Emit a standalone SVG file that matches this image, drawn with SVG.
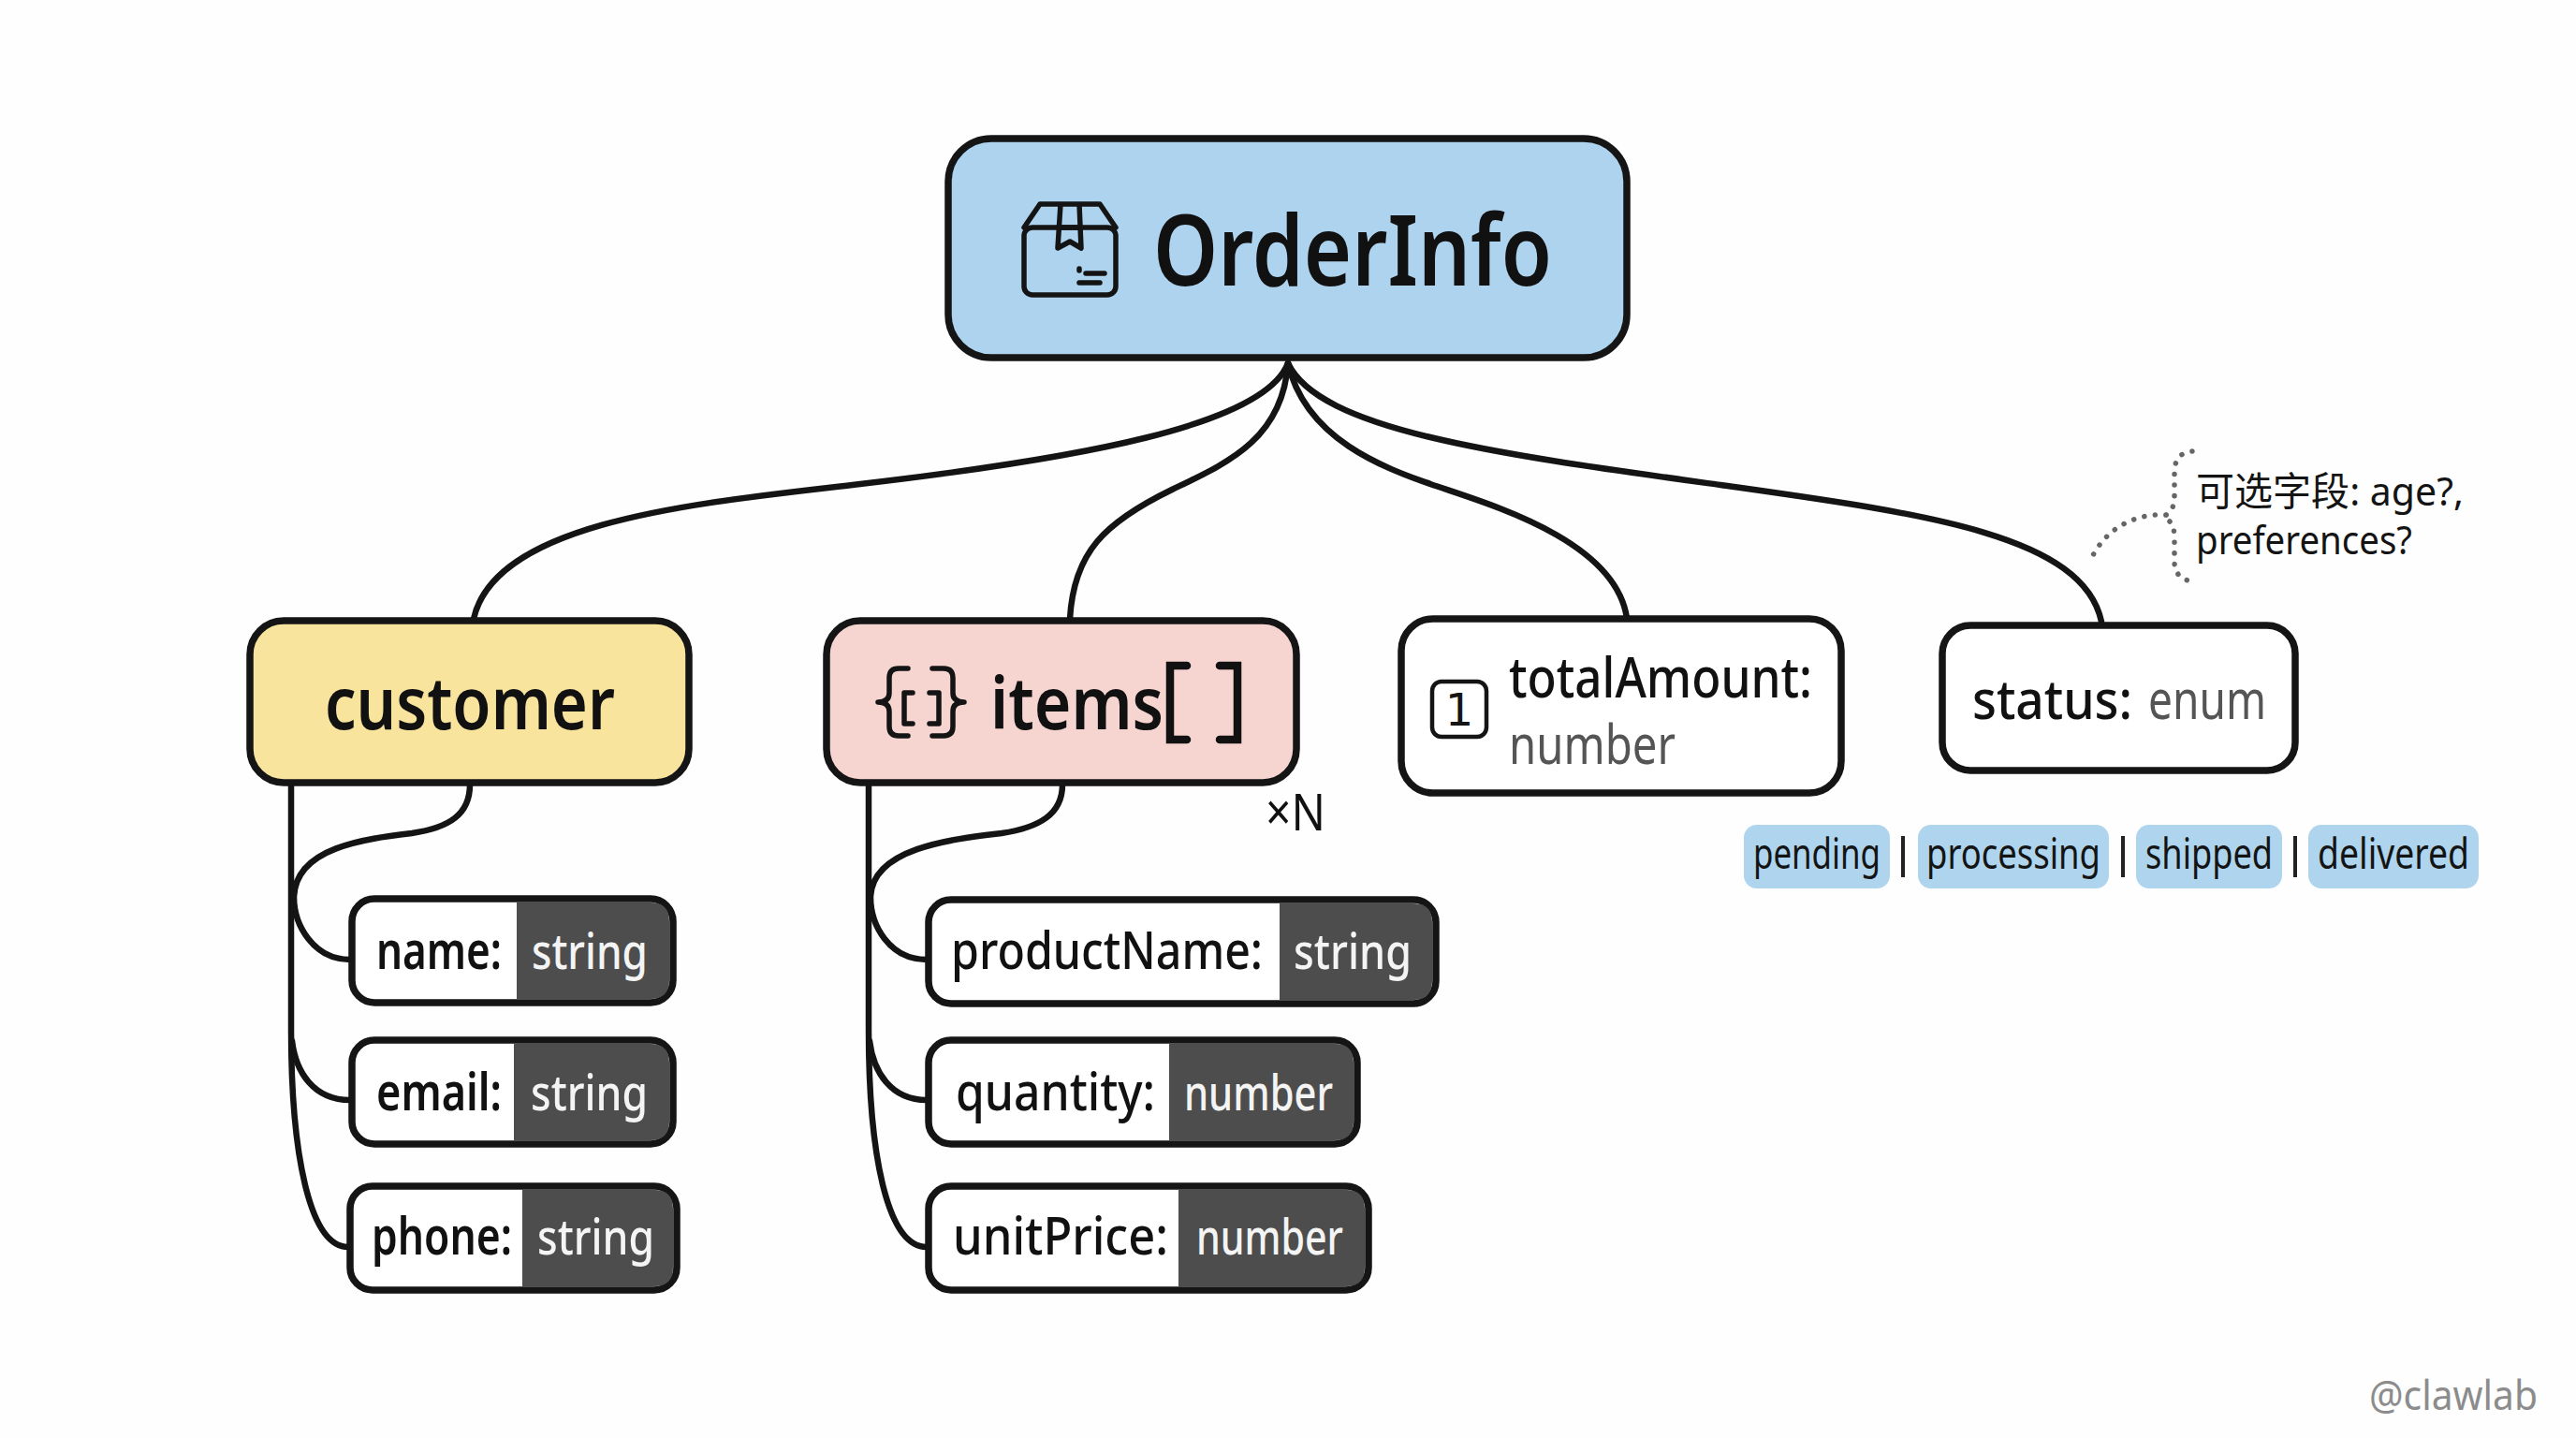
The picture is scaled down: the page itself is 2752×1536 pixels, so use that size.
<svg xmlns="http://www.w3.org/2000/svg" width="2752" height="1536" viewBox="0 0 2752 1536">
<style>
text{font-family:"Noto Sans","Open Sans","Noto Sans CJK SC",sans-serif;}
.box{stroke:#151515;stroke-width:7.5;}
.con{fill:none;stroke:#141414;stroke-width:6.5;stroke-linecap:round;}
.ico{fill:none;stroke:#141414;stroke-width:5.5;stroke-linecap:round;stroke-linejoin:round;}
.lab{fill:#111;font-size:56px;font-weight:500;}
.labb{fill:#111;font-size:56px;font-weight:600;}
.typ{fill:#f4f4f4;font-size:52px;font-weight:500;}
.dark{fill:#4d4d4d;}
.chip{fill:#aed4ee;}
.ctext{fill:#141414;font-size:46px;}
.sep{stroke:#222;stroke-width:4;}
.dot{fill:none;stroke:#666;stroke-width:5.5;stroke-linecap:round;stroke-dasharray:0.1 11.5;}
</style>
<rect width="2752" height="1536" fill="#fefefe"/>
<g id="connectors">
<path class="con" d="M1376 388C1350 455 1150 490 919 517C750 537 530 555 506 661"/>
<path class="con" d="M1376 388C1370 470 1310 495 1252 523C1180 558 1147 590 1143 661"/>
<path class="con" d="M1376 388C1395 470 1480 500 1528 517C1585 537 1725 575 1738 660"/>
<path class="con" d="M1376 388C1410 460 1600 485 1838 518C2050 548 2225 570 2245 664"/>
<path class="con" d="M311 838V1100C311 1230 330 1332 372 1332"/>
<path class="con" d="M502 838C502 870 480 884 440 890C390 896 316 905 314 958C314 988 335 1025 374 1025"/>
<path class="con" d="M312 1112C316 1145 335 1175 374 1175"/>
<path class="con" d="M928 838V1100C928 1230 947 1332 990 1332"/>
<path class="con" d="M1135 838C1135 870 1110 884 1070 890C1020 896 932 905 930 958C930 988 950 1025 990 1025"/>
<path class="con" d="M929 1112C933 1145 952 1175 990 1175"/>
</g>
<g id="orderinfo">
<rect class="box" x="1013" y="148" width="725" height="234" rx="46" fill="#aed3ef"/>
<g class="ico">
<rect x="1094" y="243" width="98" height="72" rx="9"/>
<path d="M1094 243L1111 218H1175L1192 243M1133 218L1130 265L1143 258L1155 265L1153 218M1130 243H1155M1153 287V289M1160 292H1180M1153 302H1175"/>
</g>
<text x="1232" y="305" font-size="104" font-weight="600" fill="#111" textLength="426" lengthAdjust="spacingAndGlyphs">OrderInfo</text>
</g>
<g id="customer">
<rect class="box" x="267" y="663" width="469" height="173" rx="36" fill="#f8e49d"/>
<text x="347" y="779" font-size="78" font-weight="600" fill="#111" textLength="310" lengthAdjust="spacingAndGlyphs">customer</text>
</g>
<g id="items">
<rect class="box" x="883" y="663" width="502" height="173" rx="36" fill="#f6d5d1"/>
<g class="ico"><path d="M970 714H960Q950 714 950 724V740Q950 750 938 750Q950 750 950 760V776Q950 786 960 786H970M996 714H1008Q1018 714 1018 724V740Q1018 750 1030 750Q1018 750 1018 760V776Q1018 786 1008 786H996M975 740H966V773H975M993 740H1003V773H993"/></g>
<text x="1058" y="779" font-size="78" font-weight="600" fill="#111" textLength="185" lengthAdjust="spacingAndGlyphs">items</text>
<path d="M1268 711H1250V790H1268M1303 711H1322V790H1303" fill="none" stroke="#111" stroke-width="8.5" stroke-linecap="round"/>
</g>
<g id="xn"><text x="1352" y="887" font-size="54" fill="#111" textLength="64" lengthAdjust="spacingAndGlyphs">×N</text></g>
<g id="name">
<rect class="box" x="376" y="960" width="343" height="111" rx="24" fill="#fff"/>
<path class="dark" d="M552 964H695Q715 964 715 984V1047Q715 1067 695 1067H552Z"/>
<text class="labb" x="402" y="1035" textLength="134" lengthAdjust="spacingAndGlyphs">name:</text>
<text class="typ" x="568" y="1035" textLength="124" lengthAdjust="spacingAndGlyphs">string</text>
</g>
<g id="email">
<rect class="box" x="376" y="1111" width="343" height="111" rx="24" fill="#fff"/>
<path class="dark" d="M549 1115H695Q715 1115 715 1135V1198Q715 1218 695 1218H549Z"/>
<text class="labb" x="402" y="1186" textLength="134" lengthAdjust="spacingAndGlyphs">email:</text>
<text class="typ" x="567" y="1186" textLength="125" lengthAdjust="spacingAndGlyphs">string</text>
</g>
<g id="phone">
<rect class="box" x="374" y="1267" width="349" height="111" rx="24" fill="#fff"/>
<path class="dark" d="M558 1271H699Q719 1271 719 1291V1354Q719 1374 699 1374H558Z"/>
<text class="labb" x="397" y="1340" textLength="150" lengthAdjust="spacingAndGlyphs">phone:</text>
<text class="typ" x="574" y="1340" textLength="125" lengthAdjust="spacingAndGlyphs">string</text>
</g>
<g id="productName">
<rect class="box" x="992" y="961" width="542" height="111" rx="24" fill="#fff"/>
<path class="dark" d="M1367 965H1510Q1530 965 1530 985V1048Q1530 1068 1510 1068H1367Z"/>
<text class="lab" x="1016" y="1035" textLength="333" lengthAdjust="spacingAndGlyphs">productName:</text>
<text class="typ" x="1382" y="1035" textLength="126" lengthAdjust="spacingAndGlyphs">string</text>
</g>
<g id="quantity">
<rect class="box" x="992" y="1111" width="458" height="111" rx="24" fill="#fff"/>
<path class="dark" d="M1249 1115H1426Q1446 1115 1446 1135V1198Q1446 1218 1426 1218H1249Z"/>
<text class="lab" x="1021" y="1186" textLength="213" lengthAdjust="spacingAndGlyphs">quantity:</text>
<text class="typ" x="1265" y="1186" textLength="159" lengthAdjust="spacingAndGlyphs">number</text>
</g>
<g id="unitPrice">
<rect class="box" x="992" y="1267" width="470" height="111" rx="24" fill="#fff"/>
<path class="dark" d="M1259 1271H1438Q1458 1271 1458 1291V1354Q1458 1374 1438 1374H1259Z"/>
<text class="lab" x="1018" y="1340" textLength="230" lengthAdjust="spacingAndGlyphs">unitPrice:</text>
<text class="typ" x="1278" y="1340" textLength="157" lengthAdjust="spacingAndGlyphs">number</text>
</g>
<g id="totalAmount">
<rect class="box" x="1497" y="661" width="470" height="186" rx="34" fill="#fff"/>
<rect x="1530" y="728" width="58" height="59" rx="10" fill="none" stroke="#141414" stroke-width="4.5"/>
<text x="1559" y="775" font-size="48" fill="#141414" text-anchor="middle" style="font-family:'DejaVu Sans',sans-serif">1</text>
<text x="1612" y="745" font-size="60" font-weight="500" fill="#111" textLength="324" lengthAdjust="spacingAndGlyphs">totalAmount:</text>
<text x="1612" y="816" font-size="58" fill="#555" textLength="178" lengthAdjust="spacingAndGlyphs">number</text>
</g>
<g id="status">
<rect class="box" x="2075" y="668" width="377" height="155" rx="30" fill="#fff"/>
<text x="2107" y="768" font-size="58" font-weight="500" fill="#111" textLength="171" lengthAdjust="spacingAndGlyphs">status:</text>
<text x="2295" y="768" font-size="58" fill="#555" textLength="126" lengthAdjust="spacingAndGlyphs">enum</text>
</g>
<g id="status-values">
<rect class="chip" x="1863" y="881" width="156" height="68" rx="14"/>
<rect class="chip" x="2049" y="881" width="204" height="68" rx="14"/>
<rect class="chip" x="2282" y="881" width="156" height="68" rx="14"/>
<rect class="chip" x="2466" y="881" width="182" height="68" rx="14"/>
<text class="ctext" x="1873" y="928" textLength="136" lengthAdjust="spacingAndGlyphs">pending</text>
<text class="ctext" x="2058" y="928" textLength="186" lengthAdjust="spacingAndGlyphs">processing</text>
<text class="ctext" x="2292" y="928" textLength="136" lengthAdjust="spacingAndGlyphs">shipped</text>
<text class="ctext" x="2476" y="928" textLength="162" lengthAdjust="spacingAndGlyphs">delivered</text>
<path class="sep" d="M2033 893V937M2268 893V937M2452 893V937"/>
</g>
<g id="optional-note">
<path class="dot" d="M2342 482C2330 483 2323 490 2323 505V530Q2323 545 2314 550M2318 557Q2323 562 2323 575V600Q2323 618 2342 621M2314 550C2280 548 2250 565 2235 595"/>
<text x="2346" y="540" font-size="42" fill="#141414" textLength="286" lengthAdjust="spacingAndGlyphs" style="font-family:'Noto Sans','Noto Sans CJK SC',sans-serif">可选字段: age?,</text>
<text x="2346" y="592" font-size="42" fill="#141414" textLength="231" lengthAdjust="spacingAndGlyphs">preferences?</text>
</g>
<g id="watermark"><text x="2531" y="1506" font-size="44" fill="#8c8c8c" textLength="180" lengthAdjust="spacingAndGlyphs">@clawlab</text></g>
</svg>
